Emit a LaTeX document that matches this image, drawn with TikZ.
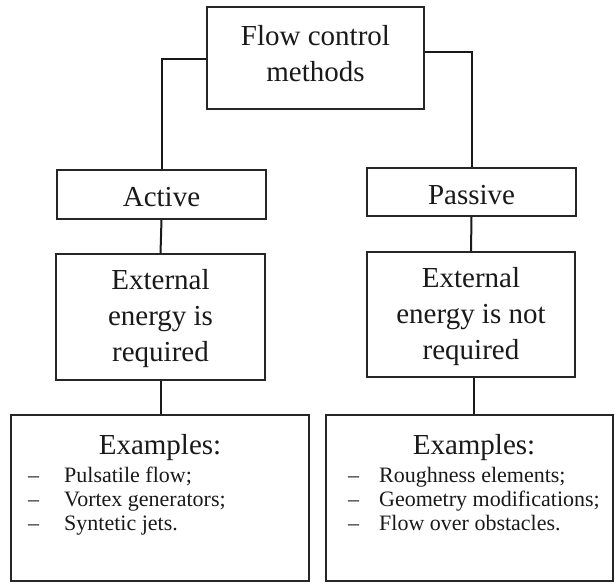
\documentclass[tikz,border=0pt]{standalone}
\usepackage{fontspec}
\setmainfont{Liberation Serif}
\begin{document}
\begin{tikzpicture}[x=1pt,y=-1pt,
  box/.style={draw=black!85, line width=1.1pt, rectangle, inner sep=0pt},
  big/.style={inner sep=0pt, align=center, text=black!90, font=\fontsize{29}{36}\selectfont},
  conn/.style={draw=black!90, line width=2pt},
  item/.style={inner sep=0pt, anchor=base west, text=black!90, font=\fontsize{22}{24}\selectfont}]
\useasboundingbox (0,0) rectangle (615,583);
% boxes
\node[box, minimum width=217pt, minimum height=102pt] (top) at (315.5,58) {};
\node[box, minimum width=209pt, minimum height=49pt] (act) at (161.5,194.5) {};
\node[box, minimum width=209pt, minimum height=48pt] (pas) at (471.5,192) {};
\node[box, minimum width=209pt, minimum height=126pt] (extL) at (160.5,317) {};
\node[box, minimum width=208pt, minimum height=125pt] (extR) at (471,314.5) {};
\node[box, minimum width=298pt, minimum height=166pt] (exL) at (160,498) {};
\node[box, minimum width=287pt, minimum height=166pt] (exR) at (469.5,498) {};
% texts
\node[big, yshift=4pt] (topt) at (top.center) {Flow control\\methods};
\node[big, anchor=base] (actt) at (161.5,206) {Active};
\node[big, anchor=base] (past) at (471.5,204) {Passive};
\node[big, yshift=-2pt] (extLt) at (extL.center) {External\\energy is\\required};
\node[big, yshift=-2pt] (extRt) at (extR.center) {External\\energy is not\\required};
\node[big, anchor=base] (exLt) at (160,454) {Examples:};
\node[big, anchor=base] (exRt) at (474,454) {Examples:};
% list items
\node[item] (dl1) at (28,482) {--};
\node[item] (dl2) at (28,506) {--};
\node[item] (dl3) at (28,530) {--};
\node[item] (il1) at (64,482) {Pulsatile flow;};
\node[item] (il2) at (64,506) {Vortex generators;};
\node[item] (il3) at (64,530) {Syntetic jets.};
\node[item] (dr1) at (348,482) {--};
\node[item] (dr2) at (348,506) {--};
\node[item] (dr3) at (348,530) {--};
\node[item] (ir1) at (379,482) {Roughness elements;};
\node[item] (ir2) at (379,506) {Geometry modifications;};
\node[item] (ir3) at (379,530) {Flow over obstacles.};
% connectors
\coordinate (tl) at ([yshift=-1pt]top.west);
\coordinate (tr) at ([yshift=6pt]top.east);
\draw[conn] (tl) -| (act.north);
\draw[conn] (tr) -| (pas.north);
\draw[conn] (act.south) -- (extL.north);
\draw[conn] (pas.south) -- (extR.north);
\draw[conn] (extL.south) -- (exL.north -| extL.south);
\coordinate (rb) at ([xshift=3pt]extR.south);
\draw[conn] (rb) -- (rb |- exR.north);
\end{tikzpicture}
\end{document}
